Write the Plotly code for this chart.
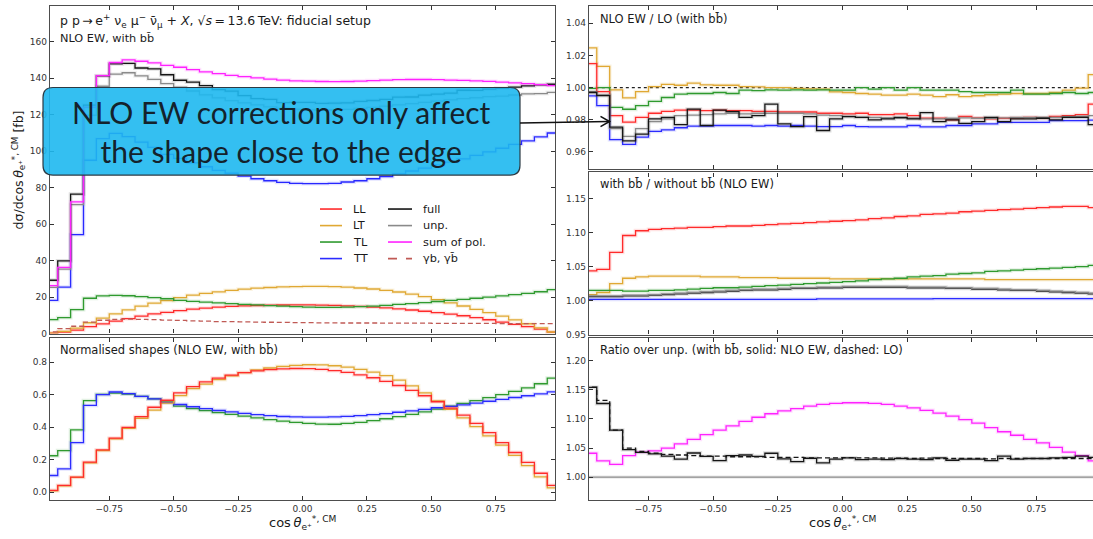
import numpy as np
import plotly.graph_objects as go

W, H = 1093, 539

# ---------------- data ----------------
bin_edges = np.round(np.linspace(-1.0, 1.0, 41), 3)

x_tick_vals = [-0.75, -0.5, -0.25, 0.0, 0.25, 0.5, 0.75]
x_tick_text = ["\u22120.75", "\u22120.50", "\u22120.25", "0.00", "0.25", "0.50", "0.75"]

# top-left: d sigma / d cos theta [fb]  (NLO EW, with bb)
LL_top = [0.21, 0.84, 1.90, 3.79, 5.36, 6.86, 8.22, 9.58, 10.77, 11.66, 12.59, 13.39, 13.99, 14.46, 14.85, 15.16, 15.39, 15.55, 15.66, 15.70,
          15.68, 15.59, 15.43, 15.20, 14.89, 14.52, 14.07, 13.53, 12.92, 12.24, 11.47, 10.67, 9.76, 8.73, 7.56, 6.28, 5.03, 3.77, 2.39, 0.84]
LT_top = [0.26, 1.25, 2.97, 5.94, 8.45, 10.82, 12.97, 15.02, 16.67, 18.08, 19.64, 21.05, 21.98, 22.87, 23.66, 24.32, 24.85, 25.25, 25.58, 25.77,
          25.91, 25.87, 25.71, 25.41, 24.98, 24.42, 23.69, 22.77, 21.62, 20.20, 18.55, 16.83, 15.11, 13.30, 11.45, 9.54, 7.46, 5.38, 3.10, 0.86]
TL_top = [7.68, 8.75, 13.14, 19.35, 20.65, 20.92, 20.72, 20.24, 19.69, 19.07, 18.18, 17.66, 17.22, 16.81, 16.43, 16.05, 15.68, 15.33, 15.02, 14.75,
          14.54, 14.37, 14.34, 14.51, 14.75, 15.09, 15.50, 15.95, 16.43, 16.98, 17.56, 18.18, 18.76, 19.35, 19.96, 20.61, 21.30, 22.02, 22.91, 24.11]
TT_top = [18.14, 25.43, 54.23, 94.95, 106.86, 109.70, 107.92, 104.90, 102.06, 98.15, 96.01, 93.52, 91.39, 89.43, 87.83, 86.23, 84.81, 83.74, 82.85, 82.32,
          82.14, 82.14, 82.32, 83.03, 83.74, 84.81, 86.06, 87.48, 89.08, 90.68, 92.46, 93.88, 95.66, 97.61, 99.57, 101.52, 103.66, 105.61, 107.75, 109.88]
full_top = [29.2, 39.8, 76.4, 125.2, 141.2, 147.8, 148.0, 145.5, 145.0, 141.8, 138.8, 137.8, 135.8, 133.7, 132.8, 130.4, 128.7, 128.3, 126.5, 126.7,
            126.7, 126.1, 126.3, 126.4, 127.2, 127.7, 128.3, 129.5, 129.6, 130.6, 131.2, 131.7, 133.3, 133.2, 133.9, 134.3, 135.0, 135.7, 136.3, 136.6]
unp_top = [25.3, 35.3, 70.7, 119.6, 135.5, 142.1, 142.9, 141.2, 139.3, 136.9, 135.0, 132.9, 130.8, 129.1, 127.6, 126.4, 125.3, 124.2, 123.5, 122.9,
           122.6, 122.4, 122.5, 122.8, 123.3, 123.9, 124.6, 125.3, 126.0, 126.7, 127.3, 128.0, 128.7, 129.2, 129.8, 130.1, 130.7, 131.3, 131.5, 132.1]
sum_top = [26.3, 36.3, 72.2, 124.0, 141.3, 148.5, 150.0, 149.2, 148.3, 146.9, 145.9, 144.6, 143.4, 142.4, 141.5, 140.8, 140.1, 139.4, 138.9, 138.5,
           138.3, 138.1, 138.0, 138.1, 138.3, 138.6, 138.9, 139.1, 139.2, 139.2, 139.1, 138.9, 138.7, 138.5, 138.2, 137.8, 137.4, 136.9, 136.4, 135.8]
gb_top = [0.9, 2.7, 4.0, 6.3, 7.3, 7.8, 7.9, 7.8, 7.6, 7.4, 7.2, 7.0, 6.8, 6.6, 6.5, 6.4, 6.3, 6.2, 6.1, 6.0,
          6.0, 5.9, 5.9, 5.8, 5.8, 5.8, 5.7, 5.7, 5.7, 5.7, 5.6, 5.6, 5.6, 5.6, 5.6, 5.5, 5.5, 5.5, 5.5, 5.5]

# bottom-left: normalised shapes
LL_norm = [0.010, 0.041, 0.092, 0.184, 0.260, 0.333, 0.399, 0.465, 0.523, 0.566, 0.611, 0.650, 0.679, 0.702, 0.721, 0.736, 0.747, 0.755, 0.760, 0.762,
           0.761, 0.757, 0.749, 0.738, 0.723, 0.705, 0.683, 0.657, 0.627, 0.594, 0.557, 0.518, 0.474, 0.424, 0.367, 0.305, 0.244, 0.183, 0.116, 0.041]
LT_norm = [0.008, 0.038, 0.090, 0.180, 0.256, 0.328, 0.393, 0.455, 0.505, 0.548, 0.595, 0.638, 0.666, 0.693, 0.717, 0.737, 0.753, 0.765, 0.775, 0.781,
           0.785, 0.784, 0.779, 0.770, 0.757, 0.740, 0.718, 0.690, 0.655, 0.612, 0.562, 0.510, 0.458, 0.403, 0.347, 0.289, 0.226, 0.163, 0.094, 0.026]
TL_norm = [0.224, 0.255, 0.383, 0.564, 0.602, 0.610, 0.604, 0.590, 0.574, 0.556, 0.530, 0.515, 0.502, 0.490, 0.479, 0.468, 0.457, 0.447, 0.438, 0.430,
           0.424, 0.419, 0.418, 0.423, 0.430, 0.440, 0.452, 0.465, 0.479, 0.495, 0.512, 0.530, 0.547, 0.564, 0.582, 0.601, 0.621, 0.642, 0.668, 0.703]
TT_norm = [0.102, 0.143, 0.305, 0.534, 0.601, 0.617, 0.607, 0.590, 0.574, 0.552, 0.540, 0.526, 0.514, 0.503, 0.494, 0.485, 0.477, 0.471, 0.466, 0.463,
           0.462, 0.462, 0.463, 0.467, 0.471, 0.477, 0.484, 0.492, 0.501, 0.510, 0.520, 0.528, 0.538, 0.549, 0.560, 0.571, 0.583, 0.594, 0.606, 0.618]

# top-right: NLO EW / LO
LL_kfac = [1.0148, 0.9975, 0.9825, 0.9785, 0.9815, 0.9840, 0.9852, 0.9860, 0.9860, 0.9856, 0.9860, 0.9856, 0.9856, 0.9852, 0.9852, 0.9848, 0.9848, 0.9848, 0.9840, 0.9840,
           0.9836, 0.9840, 0.9831, 0.9831, 0.9836, 0.9826, 0.9809, 0.9809, 0.9799, 0.9820, 0.9811, 0.9805, 0.9809, 0.9811, 0.9815, 0.9811, 0.9820, 0.9826, 0.9831, 0.9897]
LT_kfac = [1.0246, 1.0131, 0.9985, 0.9936, 0.9975, 1.0006, 1.0020, 1.0014, 1.0027, 1.0016, 1.0014, 1.0014, 1.0006, 1.0004, 1.0000, 0.9999, 0.9995, 0.9992, 0.9990, 0.9973,
           0.9969, 0.9963, 0.9959, 0.9953, 0.9953, 0.9959, 0.9953, 0.9944, 0.9955, 0.9944, 0.9949, 0.9955, 0.9959, 0.9963, 0.9963, 0.9963, 0.9969, 0.9984, 0.9996, 1.0080]
TL_kfac = [0.9995, 1.0000, 0.9877, 0.9865, 0.9888, 0.9914, 0.9938, 0.9959, 0.9963, 0.9963, 0.9969, 0.9963, 0.9984, 0.9981, 0.9986, 0.9984, 0.9986, 0.9984, 0.9986, 0.9984,
           0.9984, 1.0000, 0.9990, 1.0000, 0.9984, 1.0000, 0.9984, 0.9984, 0.9984, 0.9975, 0.9969, 0.9969, 0.9969, 0.9984, 0.9959, 0.9959, 0.9963, 0.9969, 0.9963, 0.9969]
TT_kfac = [0.9948, 0.9887, 0.9676, 0.9647, 0.9692, 0.9727, 0.9737, 0.9750, 0.9760, 0.9760, 0.9764, 0.9764, 0.9764, 0.9760, 0.9764, 0.9760, 0.9764, 0.9760, 0.9757, 0.9757,
           0.9764, 0.9757, 0.9755, 0.9755, 0.9755, 0.9764, 0.9755, 0.9755, 0.9764, 0.9764, 0.9774, 0.9774, 0.9784, 0.9784, 0.9784, 0.9784, 0.9794, 0.9794, 0.9794, 0.9797]
unp_kfac = [0.9975, 0.9954, 0.9744, 0.9696, 0.9744, 0.9788, 0.9805, 0.9825, 0.9829, 0.9831, 0.9836, 0.9840, 0.9836, 0.9840, 0.9840, 0.9840, 0.9840, 0.9836, 0.9829, 0.9825,
            0.9821, 0.9815, 0.9815, 0.9811, 0.9809, 0.9809, 0.9805, 0.9805, 0.9809, 0.9811, 0.9809, 0.9809, 0.9811, 0.9815, 0.9815, 0.9815, 0.9815, 0.9819, 0.9821, 0.9825]
full_kfac = [0.9969, 0.9950, 0.9754, 0.9668, 0.9710, 0.9805, 0.9815, 0.9770, 0.9866, 0.9764, 0.9860, 0.9850, 0.9815, 0.9825, 0.9897, 0.9774, 0.9757, 0.9819, 0.9733, 0.9805,
             0.9819, 0.9815, 0.9799, 0.9805, 0.9815, 0.9805, 0.9844, 0.9788, 0.9799, 0.9777, 0.9788, 0.9815, 0.9788, 0.9805, 0.9805, 0.9809, 0.9799, 0.9815, 0.9815, 0.9769]

# middle-right: with bb / without bb (NLO EW)
LL_bb = [1.044, 1.046, 1.071, 1.096, 1.103, 1.105, 1.106, 1.107, 1.108, 1.108, 1.109, 1.110, 1.110, 1.111, 1.112, 1.113, 1.114, 1.115, 1.116, 1.117,
         1.118, 1.119, 1.121, 1.122, 1.124, 1.125, 1.127, 1.128, 1.129, 1.131, 1.132, 1.133, 1.134, 1.135, 1.136, 1.137, 1.138, 1.139, 1.139, 1.137]
LT_bb = [1.009, 1.012, 1.025, 1.033, 1.035, 1.036, 1.036, 1.036, 1.036, 1.035, 1.035, 1.035, 1.034, 1.034, 1.034, 1.033, 1.033, 1.033, 1.033, 1.032,
         1.032, 1.032, 1.032, 1.032, 1.032, 1.032, 1.032, 1.032, 1.032, 1.032, 1.032, 1.031, 1.031, 1.031, 1.031, 1.031, 1.031, 1.031, 1.031, 1.031]
TL_bb = [1.015, 1.015, 1.015, 1.014, 1.014, 1.015, 1.015, 1.016, 1.017, 1.018, 1.019, 1.019, 1.020, 1.021, 1.022, 1.023, 1.024, 1.025, 1.026, 1.027,
         1.028, 1.029, 1.031, 1.032, 1.033, 1.035, 1.036, 1.037, 1.039, 1.040, 1.041, 1.043, 1.044, 1.045, 1.046, 1.047, 1.048, 1.049, 1.050, 1.052]
TT_bb = [1.002, 1.002, 1.002, 1.002, 1.002, 1.002, 1.002, 1.002, 1.002, 1.002, 1.002, 1.002, 1.002, 1.002, 1.002, 1.002, 1.002, 1.002, 1.0025, 1.0025,
         1.0025, 1.0025, 1.0025, 1.0025, 1.0025, 1.0025, 1.0025, 1.003, 1.003, 1.003, 1.003, 1.003, 1.003, 1.003, 1.003, 1.003, 1.003, 1.003, 1.003, 1.003]
unp_bb = [1.007, 1.007, 1.007, 1.008, 1.008, 1.009, 1.010, 1.011, 1.012, 1.013, 1.014, 1.015, 1.016, 1.017, 1.017, 1.018, 1.019, 1.019, 1.020, 1.020,
          1.021, 1.021, 1.021, 1.021, 1.021, 1.020, 1.020, 1.020, 1.019, 1.019, 1.018, 1.018, 1.017, 1.016, 1.016, 1.015, 1.014, 1.013, 1.012, 1.011]
full_bb = [1.006, 1.006, 1.006, 1.007, 1.007, 1.008, 1.009, 1.010, 1.011, 1.012, 1.013, 1.014, 1.015, 1.016, 1.016, 1.017, 1.018, 1.018, 1.019, 1.019,
           1.020, 1.020, 1.020, 1.020, 1.020, 1.019, 1.019, 1.019, 1.018, 1.018, 1.017, 1.017, 1.016, 1.015, 1.015, 1.014, 1.013, 1.012, 1.011, 1.010]

# bottom-right: ratio over unp.
full_over_unp_nlo = [1.1545, 1.1267, 1.0807, 1.0472, 1.0426, 1.0400, 1.0360, 1.0310, 1.0415, 1.0358, 1.0285, 1.0370, 1.0380, 1.0358, 1.0410, 1.0313, 1.0267, 1.0324, 1.0245, 1.0310,
                     1.0330, 1.0300, 1.0310, 1.0300, 1.0320, 1.0310, 1.0300, 1.0330, 1.0290, 1.0310, 1.0310, 1.0285, 1.0360, 1.0310, 1.0320, 1.0320, 1.0330, 1.0340, 1.0360, 1.0340]
full_over_unp_lo = [1.1550, 1.1320, 1.0810, 1.0500, 1.0440, 1.0410, 1.0390, 1.0380, 1.0370, 1.0360, 1.0360, 1.0350, 1.0350, 1.0350, 1.0340, 1.0340, 1.0340, 1.0330, 1.0330, 1.0330,
                    1.0335, 1.0330, 1.0330, 1.0325, 1.0325, 1.0320, 1.0325, 1.0320, 1.0320, 1.0320, 1.0320, 1.0315, 1.0320, 1.0320, 1.0320, 1.0320, 1.0320, 1.0320, 1.0320, 1.0320]
sum_over_unp = [1.041, 1.028, 1.022, 1.037, 1.043, 1.045, 1.050, 1.057, 1.065, 1.073, 1.081, 1.088, 1.096, 1.103, 1.109, 1.114, 1.118, 1.122, 1.125, 1.127,
                1.128, 1.128, 1.127, 1.125, 1.122, 1.119, 1.115, 1.110, 1.105, 1.099, 1.093, 1.085, 1.078, 1.072, 1.065, 1.059, 1.051, 1.043, 1.037, 1.028]
unp_over_unp = [1.0, 1.0, 1.0, 1.0, 1.0, 1.0, 1.0, 1.0, 1.0, 1.0, 1.0, 1.0, 1.0, 1.0, 1.0, 1.0, 1.0, 1.0, 1.0, 1.0,
                1.0, 1.0, 1.0, 1.0, 1.0, 1.0, 1.0, 1.0, 1.0, 1.0, 1.0, 1.0, 1.0, 1.0, 1.0, 1.0, 1.0, 1.0, 1.0, 1.0]

# ---------------- style ----------------
C_LL, C_LT, C_TL, C_TT = "#ff2b2b", "#e0a833", "#2f9a2f", "#2b2bff"
C_FULL, C_UNP, C_SUM, C_GB = "#151515", "#8a8a8a", "#ff22ff", "#c05a55"
FONT = "DejaVu Sans"


def pxx(x):
    return x / W


def pyy(y):
    return 1 - y / H


fig = go.Figure()


def add(vals, color, xa, ya, width=1.3, dash=None, halo=True):
    xs = list(bin_edges)
    ys = list(vals) + [vals[-1]]
    if halo:
        fig.add_trace(go.Scatter(x=xs, y=ys, mode="lines", xaxis=xa, yaxis=ya,
                                 line=dict(color=color, width=3.8, shape="hv"),
                                 opacity=0.13, showlegend=False, hoverinfo="skip"))
    fig.add_trace(go.Scatter(x=xs, y=ys, mode="lines", xaxis=xa, yaxis=ya,
                             line=dict(color=color, width=width, shape="hv", dash=dash),
                             showlegend=False))


# top-left
for vals, col in [(LL_top, C_LL), (LT_top, C_LT), (TL_top, C_TL), (TT_top, C_TT),
                  (unp_top, C_UNP), (full_top, C_FULL), (sum_top, C_SUM)]:
    add(vals, col, "x", "y")
add(gb_top, C_GB, "x", "y", dash="5px,3px", halo=False)

# bottom-left
for vals, col in [(TL_norm, C_TL), (TT_norm, C_TT), (LT_norm, C_LT), (LL_norm, C_LL)]:
    add(vals, col, "x2", "y2")

# top-right
fig.add_trace(go.Scatter(x=[-1.0, 1.0], y=[1.0, 1.0], mode="lines", xaxis="x3", yaxis="y3",
                         line=dict(color="#222", width=1.2, dash="dot"), showlegend=False))
for vals, col in [(LT_kfac, C_LT), (TL_kfac, C_TL), (LL_kfac, C_LL), (TT_kfac, C_TT),
                  (unp_kfac, C_UNP), (full_kfac, C_FULL)]:
    add(vals, col, "x3", "y3")

# middle-right
for vals, col in [(LL_bb, C_LL), (LT_bb, C_LT), (TL_bb, C_TL), (full_bb, C_FULL), (unp_bb, C_UNP), (TT_bb, C_TT)]:
    add(vals, col, "x4", "y4")

# bottom-right
add(unp_over_unp, C_UNP, "x5", "y5")
add(sum_over_unp, C_SUM, "x5", "y5")
add(full_over_unp_nlo, C_FULL, "x5", "y5")
add(full_over_unp_lo, C_FULL, "x5", "y5", dash="5px,3px", halo=False)

# ---------------- axes ----------------
tickfont = dict(family=FONT, size=9, color="#333")
LINE = "#4d4d4d"


def xax(domain, rng, labels, anchor, mirror="ticks"):
    return dict(domain=domain, range=rng, anchor=anchor, showline=True, linecolor=LINE, linewidth=1.4,
                mirror=mirror, ticks="inside", ticklen=4, tickwidth=1, tickcolor="#333",
                tickvals=x_tick_vals, ticktext=x_tick_text, showticklabels=labels,
                tickfont=tickfont, showgrid=False, zeroline=False, fixedrange=True)


def yax(domain, rng, vals, texts, anchor, mirror="ticks"):
    return dict(domain=domain, range=rng, anchor=anchor, showline=True, linecolor=LINE, linewidth=1.4,
                mirror=mirror, ticks="inside", ticklen=4, tickwidth=1, tickcolor="#333",
                tickvals=vals, ticktext=texts, tickfont=tickfont, showgrid=False, zeroline=False,
                fixedrange=True)


L_dom = [pxx(50), pxx(555)]
R_dom = [pxx(589), 1.0]
R_rng = [-0.98, 0.9685]

fig.update_layout(
    xaxis=xax(L_dom, [-0.98, 0.98], False, "y"),
    yaxis=yax([pyy(336.7), pyy(6)], [0, 179.5], [0, 20, 40, 60, 80, 100, 120, 140, 160],
              ["0", "20", "40", "60", "80", "100", "120", "140", "160"], "x"),
    xaxis2=xax(L_dom, [-0.98, 0.98], True, "y2"),
    yaxis2=yax([pyy(505), pyy(341)], [-0.051, 0.951], [0, 0.2, 0.4, 0.6, 0.8],
               ["0.0", "0.2", "0.4", "0.6", "0.8"], "x2"),
    xaxis3=xax(R_dom, R_rng, False, "y3"),
    yaxis3=yax([pyy(170.7), pyy(6)], [0.9493, 1.0507], [0.96, 0.98, 1.0, 1.02, 1.04],
               ["0.96", "0.98", "1.00", "1.02", "1.04"], "x3", mirror=False),
    xaxis4=xax(R_dom, R_rng, False, "y4"),
    yaxis4=yax([pyy(337.7), pyy(174)], [0.95, 1.189], [0.95, 1.0, 1.05, 1.10, 1.15],
               ["0.95", "1.00", "1.05", "1.10", "1.15"], "x4", mirror=False),
    xaxis5=xax(R_dom, R_rng, True, "y5"),
    yaxis5=yax([pyy(505), pyy(341)], [0.96, 1.2397], [1.0, 1.05, 1.10, 1.15, 1.20],
               ["1.00", "1.05", "1.10", "1.15", "1.20"], "x5", mirror=False),
)

# ---------------- text ----------------
ann = []


def text(x, y, s, size=11.5, anchor="left", color="#1a1a1a", family=FONT, angle=0):
    ann.append(dict(x=pxx(x), y=pyy(y), xref="paper", yref="paper", text=s, showarrow=False,
                    xanchor=anchor, yanchor="middle", textangle=angle,
                    font=dict(family=family, size=size, color=color)))


text(58, 21, "p p\u2009\u2192\u2009e<sup>+</sup> \u03bd<sub>e</sub> \u03bc<sup>\u2212</sup> \u03bd\u0304<sub>\u03bc</sub> + <i>X</i>, "
             "\u221a<i>s</i>\u2009=\u200913.6\u2009TeV: fiducial setup", size=12.5)
text(58, 38.5, "NLO EW, with bb\u0304", size=11.3)
text(58, 353.5, "Normalised shapes (NLO EW, with bb\u0304)", size=11.5)
text(598, 19, "NLO EW / LO (with bb\u0304)", size=11.5)
text(598, 186, "with bb\u0304 / without bb\u0304 (NLO EW)", size=11.5)
text(598, 353.5, "Ratio over unp. (with bb\u0304, solid: NLO EW, dashed: LO)", size=11.5)

xlab = "cos\u2009<i>\u03b8</i><sub>e\u207a</sub><sup>*, CM</sup>"
text(302, 528, xlab, size=13, anchor="center")
text(842, 528, xlab, size=13, anchor="center")
text(19, 172, "d\u03c3/dcos\u2009<i>\u03b8</i><sub>e\u207a</sub><sup>*, CM</sup> [fb]", size=12.5, anchor="center", angle=-90)

# legend (manual, two columns)
shapes = []
rows = [211, 227.7, 244.3, 261]
col1 = [("LL", C_LL), ("LT", C_LT), ("TL", C_TL), ("TT", C_TT)]
col2 = [("full", C_FULL, None), ("unp.", C_UNP, None), ("sum of pol.", C_SUM, None), ("\u03b3b, \u03b3b\u0304", C_GB, "dash")]
for (lab, c), yy in zip(col1, rows):
    shapes.append(dict(type="line", xref="paper", yref="paper", x0=pxx(320), x1=pxx(342), y0=pyy(yy), y1=pyy(yy),
                       line=dict(color=c, width=1.6)))
    text(351, yy, lab, size=11.3)
for (lab, c, d), yy in zip(col2, rows):
    shapes.append(dict(type="line", xref="paper", yref="paper", x0=pxx(388), x1=pxx(412), y0=pyy(yy), y1=pyy(yy),
                       line=dict(color=c, width=1.6, dash=d)))
    text(421, yy, lab, size=11.3)

# highlighted call-out box
x0, x1, y0, y1, r = 43, 520, 88.3, 176.7, 10


def P(x, y):
    return f"{pxx(x):.5f},{pyy(y):.5f}"


box_path = (f"M {P(x0 + r, y0)} L {P(x1 - r, y0)} Q {P(x1, y0)} {P(x1, y0 + r)} "
            f"L {P(x1, y1 - r)} Q {P(x1, y1)} {P(x1 - r, y1)} L {P(x0 + r, y1)} "
            f"Q {P(x0, y1)} {P(x0, y1 - r)} L {P(x0, y0 + r)} Q {P(x0, y0)} {P(x0 + r, y0)} Z")
shapes.append(dict(type="path", xref="paper", yref="paper", path=box_path, layer="above",
                   fillcolor="rgba(30,184,240,0.90)", line=dict(color="#2b3a44", width=1.2)))
text(281.5, 133, "NLO EW corrections only affect<br>the shape close to the edge", size=30,
     anchor="center", color="#14222c", family="Lato")

# arrow from the box to the upper-right panel
shapes.append(dict(type="line", xref="paper", yref="paper", x0=pxx(520), y0=pyy(124.2), x1=pxx(608.5), y1=pyy(122.6),
                   line=dict(color="#111", width=1.6), layer="above"))
shapes.append(dict(type="path", xref="paper", yref="paper",
                   path=f"M {P(600.5, 117.5)} L {P(609.5, 122.6)} L {P(600.5, 127.8)}",
                   line=dict(color="#111", width=1.6), layer="above"))

fig.update_layout(
    width=W, height=H, margin=dict(l=0, r=0, t=0, b=0),
    paper_bgcolor="white", plot_bgcolor="white",
    font=dict(family=FONT, size=10, color="#222"),
    showlegend=False, annotations=ann, shapes=shapes,
)

fig.write_html("out.html")
